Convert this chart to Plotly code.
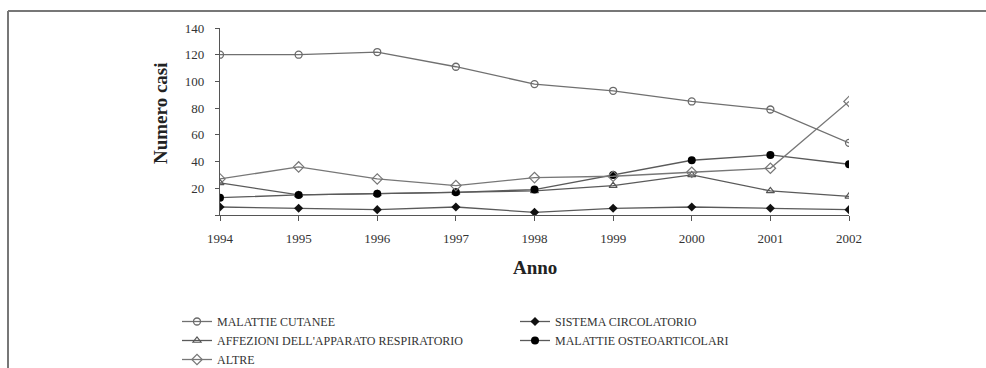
import plotly.graph_objects as go

years = [1994, 1995, 1996, 1997, 1998, 1999, 2000, 2001, 2002]
year_labels = ["1994", "1995", "1996", "1997", "1998", "1999", "2000", "2001", "2002"]
cutanee = [120, 120, 122, 111, 98, 93, 85, 79, 54]
circolatorio = [6, 5, 4, 6, 2, 5, 6, 5, 4]
respiratorio = [24, 15, 16, 17, 18, 22, 30, 18, 14]
osteo = [13, 15, 16, 17, 19, 30, 41, 45, 38]
altre = [27, 36, 27, 22, 28, 29, 32, 35, 85]
y_ticks = [0, 20, 40, 60, 80, 100, 120, 140]
y_ticklabels = ["", "20", "40", "60", "80", "100", "120", "140"]

W, H = 986, 368
L, R, T, B = 220, 137, 28, 153
pw, ph = W - L - R, H - T - B

def px_x(p):
    return (p - L) / pw

def px_y(p):
    return 1 - (p - T) / ph

FONT = "Liberation Serif, Times New Roman, serif"
LINE = "#5a5a5a"

series = [
    ("MALATTIE CUTANEE", cutanee, dict(symbol="circle-open", size=7, color="#6a6a6a", line=dict(width=1.3, color="#6a6a6a")), "#707070"),
    ("SISTEMA CIRCOLATORIO", circolatorio, dict(symbol="diamond", size=7, color="#111111"), LINE),
    ("AFFEZIONI DELL'APPARATO RESPIRATORIO", respiratorio, dict(symbol="triangle-up-open", size=7, color="#555555", line=dict(width=1.2, color="#555555")), LINE),
    ("MALATTIE OSTEOARTICOLARI", osteo, dict(symbol="circle", size=8, color="#000000"), LINE),
    ("ALTRE", altre, dict(symbol="diamond-open", size=8, color="#777777", line=dict(width=1.2, color="#777777")), "#777777"),
]

fig = go.Figure()
for name, vals, mk, lc in series:
    fig.add_trace(go.Scatter(
        x=years, y=vals, name=name, mode="lines+markers",
        line=dict(color=lc, width=1.3), marker=mk,
    ))

fig.update_layout(
    width=W, height=H,
    margin=dict(l=L, r=R, t=T, b=B, autoexpand=False),
    paper_bgcolor="white", plot_bgcolor="white",
    font=dict(family=FONT, color="#333333", size=12),
    showlegend=True,
    legend=dict(
        orientation="h", x=px_x(177), xanchor="left", y=px_y(307), yanchor="top",
        entrywidth=293, entrywidthmode="pixels",
        font=dict(family=FONT, size=12, color="#333333"),
        bgcolor="rgba(0,0,0,0)", traceorder="normal",
    ),
    xaxis=dict(
        range=[1994, 2002], tickvals=years, ticktext=year_labels,
        showline=True, linecolor="#555555", linewidth=1.2,
        ticks="outside", ticklen=5, tickcolor="#555555",
        showgrid=False, zeroline=False, ticklabelstandoff=6,
        tickfont=dict(size=13, family=FONT, color="#333333"),
    ),
    yaxis=dict(
        range=[0, 140], tickvals=y_ticks, ticktext=y_ticklabels,
        showline=True, linecolor="#555555", linewidth=1.2,
        ticks="outside", ticklen=4, tickcolor="#555555",
        showgrid=False, zeroline=False, ticklabelstandoff=8,
        tickfont=dict(size=13, family=FONT, color="#333333"),
    ),
    annotations=[
        dict(text="<b>Numero casi</b>", xref="paper", yref="paper",
             x=px_x(160), y=px_y(113), textangle=-90, showarrow=False,
             font=dict(size=19, family=FONT, color="#222222"),
             xanchor="center", yanchor="middle"),
        dict(text="<b>Anno</b>", xref="paper", yref="paper",
             x=px_x(535), y=px_y(267), showarrow=False,
             font=dict(size=19, family=FONT, color="#222222"),
             xanchor="center", yanchor="middle"),
    ],
    shapes=[
        dict(type="line", xref="paper", yref="paper",
             x0=px_x(8), x1=px_x(990), y0=px_y(11), y1=px_y(11),
             line=dict(color="#777777", width=2)),
        dict(type="line", xref="paper", yref="paper",
             x0=px_x(8), x1=px_x(8), y0=px_y(11), y1=px_y(372),
             line=dict(color="#777777", width=2)),
    ],
)

fig.write_html(
    "out.html",
    config={"displayModeBar": False},
    post_script="document.body.style.margin='0';document.body.style.overflow='hidden';",
)
